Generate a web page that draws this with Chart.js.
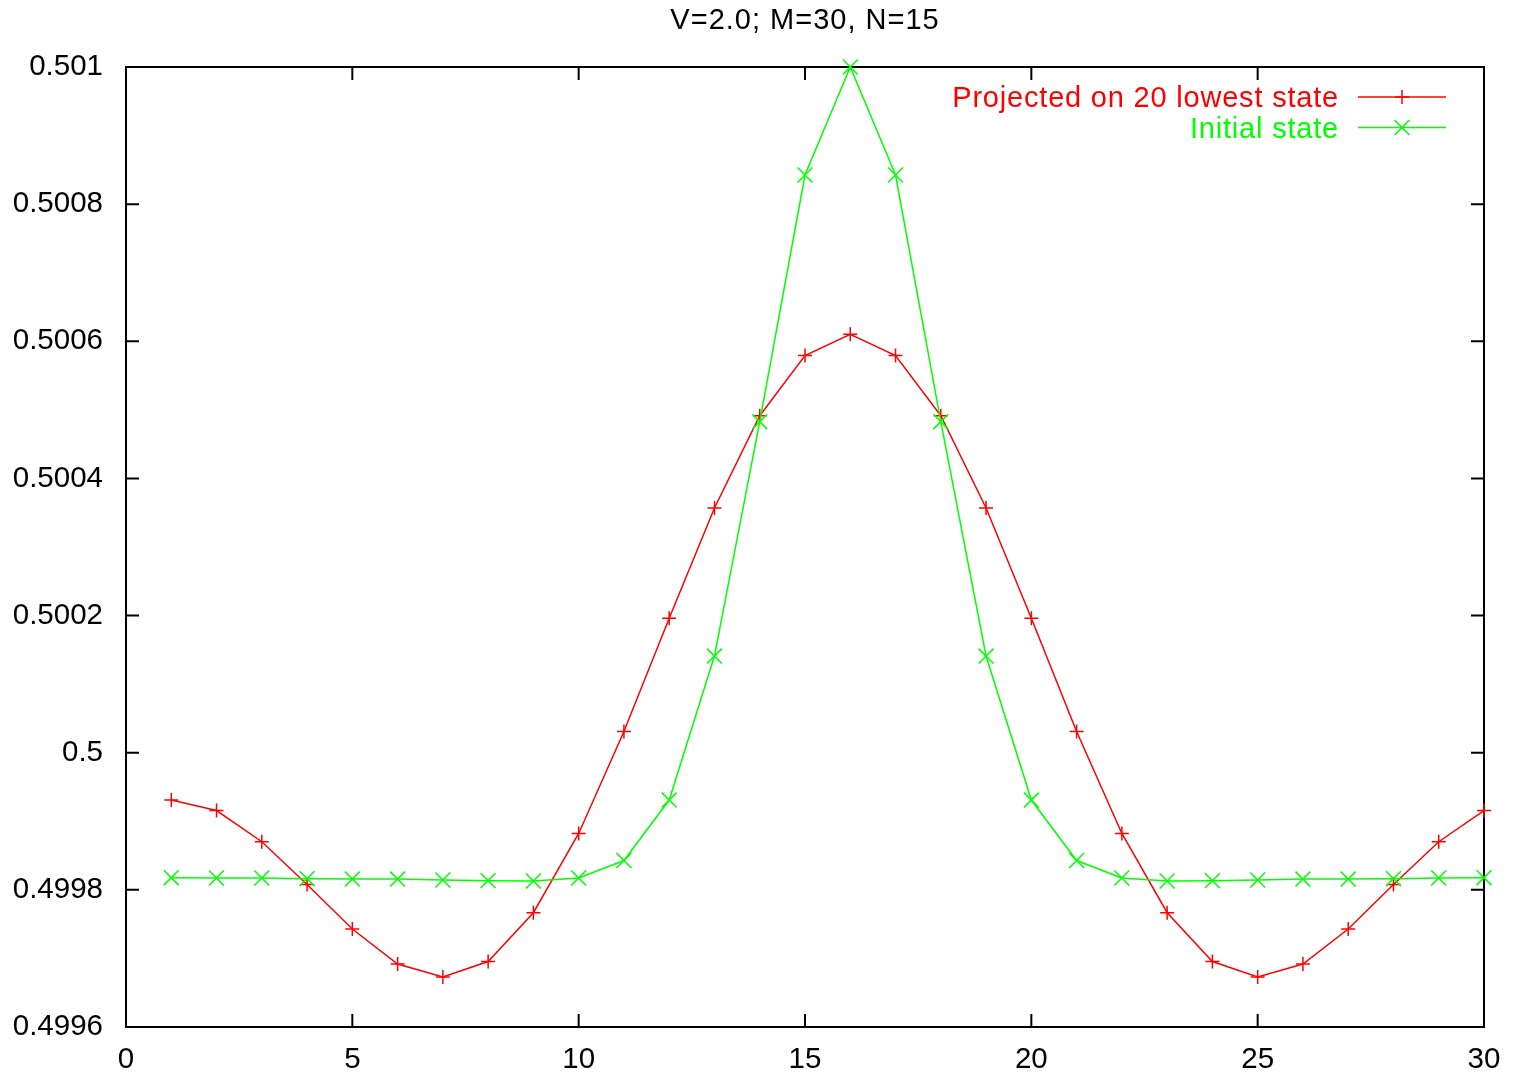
<!DOCTYPE html>
<html>
<head>
<meta charset="utf-8">
<title>V=2.0; M=30, N=15</title>
<script src="https://cdn.jsdelivr.net/npm/chart.js@4/dist/chart.umd.min.js"></script>
<style>
  html, body { margin: 0; padding: 0; background: #fff; }
  canvas { display: block; }
</style>
</head>
<body>
<canvas id="plot" width="1514" height="1077"></canvas>
<script>
// occupation per site, M=30 sites
const sites = [1, 2, 3, 4, 5, 6, 7, 8, 9, 10, 11, 12, 13, 14, 15,
               16, 17, 18, 19, 20, 21, 22, 23, 24, 25, 26, 27, 28, 29, 30];

const projected = [
  0.4999310, 0.4999157, 0.4998702, 0.4998078, 0.4997429, 0.4996919, 0.4996729, 0.4996955,
  0.4997667, 0.4998822, 0.5000309, 0.5001960, 0.5003569, 0.5004915, 0.5005793, 0.5006102,
  0.5005793, 0.5004915, 0.5003569, 0.5001960, 0.5000309, 0.4998822, 0.4997667, 0.4996955,
  0.4996729, 0.4996919, 0.4997429, 0.4998078, 0.4998702, 0.4999157
];

const initial = [
  0.4998177, 0.4998173, 0.4998173, 0.4998163, 0.4998158, 0.4998158, 0.4998144, 0.4998134,
  0.4998129, 0.4998173, 0.4998428, 0.4999310, 0.5001410, 0.5004827, 0.5008425, 0.5010000,
  0.5008425, 0.5004827, 0.5001410, 0.4999310, 0.4998428, 0.4998173, 0.4998129, 0.4998134,
  0.4998144, 0.4998158, 0.4998158, 0.4998163, 0.4998173, 0.4998177
];

const xTicks = [0, 5, 10, 15, 20, 25, 30];
const yTicks = [0.4996, 0.4998, 0.5, 0.5002, 0.5004, 0.5006, 0.5008, 0.501];

const plotTitle = "V=2.0; M=30, N=15";
const seriesNames = ["Projected on 20 lowest state", "Initial state"];
const seriesColors = ["#ff0000", "#00ff00"];

const FONT = "Liberation Sans, Arial, Helvetica, sans-serif";
const TICK = 13;

function toPoints(values) {
  return sites.map((s, i) => ({ x: s, y: values[i] }));
}

// gnuplot style box: full frame with inward ticks on all four sides
const framePlugin = {
  id: "frame",
  beforeDatasetsDraw(chart) {
    const { ctx, chartArea: a, scales } = chart;
    ctx.save();
    ctx.strokeStyle = "#000";
    ctx.lineWidth = 2;
    ctx.strokeRect(a.left, a.top, a.right - a.left, a.bottom - a.top);
    ctx.beginPath();
    xTicks.forEach((v) => {
      const px = scales.x.getPixelForValue(v);
      ctx.moveTo(px, a.bottom);
      ctx.lineTo(px, a.bottom - TICK);
      ctx.moveTo(px, a.top);
      ctx.lineTo(px, a.top + TICK);
    });
    yTicks.forEach((v) => {
      const py = scales.y.getPixelForValue(v);
      ctx.moveTo(a.left, py);
      ctx.lineTo(a.left + TICK, py);
      ctx.moveTo(a.right, py);
      ctx.lineTo(a.right - TICK, py);
    });
    ctx.stroke();
    ctx.restore();
  }
};

function drawMarker(ctx, style, cx, cy, r) {
  ctx.beginPath();
  if (style === "cross") {
    ctx.moveTo(cx - r, cy);
    ctx.lineTo(cx + r, cy);
    ctx.moveTo(cx, cy - r);
    ctx.lineTo(cx, cy + r);
  } else {
    const d = r * Math.SQRT1_2;
    ctx.moveTo(cx - d, cy - d);
    ctx.lineTo(cx + d, cy + d);
    ctx.moveTo(cx - d, cy + d);
    ctx.lineTo(cx + d, cy - d);
  }
  ctx.stroke();
}

// title above the frame and key in the upper right corner
const labelsPlugin = {
  id: "labels",
  afterDraw(chart) {
    const { ctx, chartArea: a } = chart;
    ctx.save();
    ctx.fillStyle = "#000";
    ctx.font = "29px " + FONT;
    ctx.textAlign = "center";
    ctx.textBaseline = "middle";
    ctx.letterSpacing = "1px";
    ctx.fillText(plotTitle, (a.left + a.right) / 2, 21);

    ctx.letterSpacing = "0.8px";
    ctx.textAlign = "right";
    chart.data.datasets.forEach((ds, i) => {
      const rowY = a.top + 30 + i * 30.5;
      ctx.fillStyle = ds.borderColor;
      ctx.fillText(seriesNames[i], a.right - 145, rowY + 2);
      ctx.strokeStyle = ds.borderColor;
      ctx.lineWidth = 1.5;
      ctx.beginPath();
      ctx.moveTo(a.right - 126, rowY);
      ctx.lineTo(a.right - 38, rowY);
      ctx.stroke();
      drawMarker(ctx, ds.pointStyle, a.right - 82, rowY, ds.pointRadius);
    });
    ctx.restore();
  }
};

new Chart(document.getElementById("plot"), {
  type: "line",
  data: {
    datasets: [
      {
        label: seriesNames[0],
        data: toPoints(projected),
        borderColor: seriesColors[0],
        backgroundColor: seriesColors[0],
        borderWidth: 1.5,
        pointStyle: "cross",
        pointRadius: 7,
        pointBorderWidth: 1.5,
        tension: 0,
        clip: false,
        order: 2
      },
      {
        label: seriesNames[1],
        data: toPoints(initial),
        borderColor: seriesColors[1],
        backgroundColor: seriesColors[1],
        borderWidth: 1.5,
        pointStyle: "crossRot",
        pointRadius: 10.5,
        pointBorderWidth: 1.5,
        tension: 0,
        clip: false,
        order: 1
      }
    ]
  },
  options: {
    responsive: false,
    animation: false,
    events: [],
    layout: { padding: { top: 67, right: 30, left: 0, bottom: 0 } },
    plugins: {
      legend: { display: false },
      title: { display: false },
      tooltip: { enabled: false }
    },
    scales: {
      x: {
        type: "linear",
        min: 0,
        max: 30,
        afterBuildTicks: (scale) => { scale.ticks = xTicks.map((v) => ({ value: v })); },
        afterFit: (scale) => {
          scale.height = 50;
          scale.paddingLeft = 0;
          scale.paddingRight = 0;
        },
        grid: { display: false, drawTicks: false },
        border: { display: false },
        ticks: {
          color: "#000",
          font: { family: FONT, size: 29.5 },
          padding: 15,
          maxRotation: 0,
          autoSkip: false
        }
      },
      y: {
        type: "linear",
        min: 0.4996,
        max: 0.501,
        afterBuildTicks: (scale) => { scale.ticks = yTicks.map((v) => ({ value: v })); },
        afterFit: (scale) => {
          scale.width = 126;
          scale.paddingTop = 0;
          scale.paddingBottom = 0;
        },
        grid: { display: false, drawTicks: false },
        border: { display: false },
        ticks: {
          color: "#000",
          font: { family: FONT, size: 29.5 },
          padding: 23,
          autoSkip: false,
          callback: (v) => String(Number(v.toFixed(4)))
        }
      }
    }
  },
  plugins: [framePlugin, labelsPlugin]
});
</script>
</body>
</html>
